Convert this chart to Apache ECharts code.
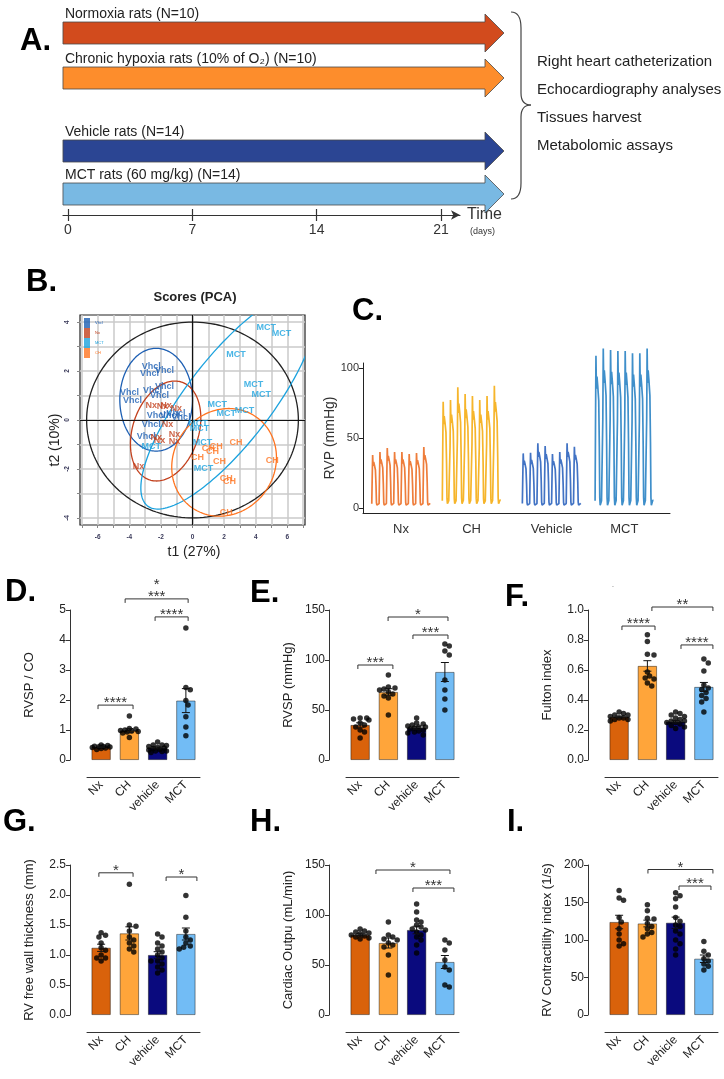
<!DOCTYPE html>
<html><head><meta charset="utf-8">
<script src="https://cdn.jsdelivr.net/npm/echarts/dist/echarts.min.js"></script>
<style>html,body{margin:0;padding:0;background:#fff}#c{width:724px;height:1079px}</style>
</head><body><div id="c"></div>
<script>
// ================= DATA =================
// Panel A : protocol
const groupNames = ['Normoxia rats', 'Chronic hypoxia rats (10% of O\u2082)', 'Vehicle rats', 'MCT rats (60 mg/kg)'];
const groupN = [10, 10, 14, 14];
const startDay = [0, 0, 0, 0];
const endDay = [21, 21, 21, 21];
const dayTicks = [0, 7, 14, 21];
const readouts = ['Right heart catheterization', 'Echocardiography analyses', 'Tissues harvest', 'Metabolomic assays'];

// Panel B : PCA scores (t1, t2)
const pcaGroups = ['Vhcl', 'Nx', 'MCT', 'CH'];
const pcaVhcl = [[-2.61,2.18],[-2.72,1.88],[-1.77,2.01],[-3.99,1.11],[-3.80,0.78],[-2.53,1.22],[-1.77,1.35],[-2.09,1.02],[-2.30,0.20],[-1.46,0.20],[-0.72,0.09],[-2.61,-0.17],[-2.93,-0.68],[-1.05,0.25]];
const pcaNx = [[-2.61,0.61],[-1.67,0.61],[-1.03,0.48],[-1.58,-0.17],[-2.30,-0.70],[-2.09,-0.82],[-1.14,-0.61],[-1.14,-0.88],[-3.42,-1.90],[-1.90,0.55]];
const pcaMCT = [[4.66,3.77],[5.63,3.55],[2.76,2.69],[3.86,1.47],[4.35,1.06],[1.56,0.65],[2.13,0.28],[3.29,0.37],[0.44,-0.33],[0.63,-0.94],[0.70,-2.00],[-2.61,-1.09],[0.35,-0.15]];
const pcaCH = [[2.76,-0.90],[1.50,-1.09],[1.27,-1.29],[0.32,-1.55],[1.71,-1.71],[5.04,-1.66],[2.13,-2.40],[2.34,-2.53],[2.13,-3.80],[1.00,-1.18]];
// ellipses: centre (t1,t2), conjugate semi-axes U and V
const ellHotelling = [0, 0, 6.7, 0, 0, 4.0];
const ellVhcl = [-2.3, 0.83, 0, 2.1, 2.3, 0];
const ellNx = [-1.7, -0.45, 1.0, 2.0, 1.99, -0.41];
const ellMCT = [2.30, 0.80, 5.415, 4.092, -1.30, 1.72];
const ellCH = [2.0, -1.73, 0.3, 2.2, 3.3, 0];
const pcaTicks = [-7,-6,-5,-4,-3,-2,-1,0,1,2,3,4,5,6,7];
const pcaLabelsX = [-6,-4,-2,0,2,4,6];
const pcaLabelsY = [-4,-2,0,2,4];

// Panel C : RVP traces (peak pressure of each beat, mmHg)
const rvpGroups = ['Nx', 'CH', 'Vehicle', 'MCT'];
const rvpPeaksNx = [37.9, 40, 42.9, 40, 40, 38.6, 39.3, 43.6];
const rvpPeaksCH = [75.9, 77.1, 86.2, 81.4, 80, 77.1, 80, 87.4];
const rvpPeaksVeh = [39, 39.5, 46.2, 44.3, 38.6, 40, 46.2, 43.8];
const rvpPeaksMCT = [108.8, 114, 112.9, 112.1, 112.1, 110.5, 110.5, 114];
const rvpBase = [2, 3, 2, 2];
// one beat: [fraction of beat, fraction of peak]
const beatShape = [[0,0.03],[0.06,0.55],[0.12,1],[0.18,0.78],[0.26,0.86],[0.36,0.8],[0.5,0.7],[0.58,0.4],[0.64,0.05],[0.7,0.0],[0.88,0.03],[1,0.03]];
const rvpTicks = [0, 50, 100];

// Panels D-I
const cats = ['Nx', 'CH', 'vehicle', 'MCT'];
// D  RVSP / CO
const dMeans = [0.43, 0.98, 0.40, 1.98];
const dSem = [0.015, 0.07, 0.03, 0.40];
const dNx = [0.5,0.48,0.46,0.45,0.44,0.43,0.42,0.4,0.38,0.35];
const dCH = [1.47,1.05,1.03,1.0,0.98,0.97,0.95,0.93,0.9,0.75];
const dVeh = [0.6,0.5,0.5,0.48,0.45,0.42,0.4,0.38,0.35,0.33,0.3,0.28,0.25,0.3];
const dMCT = [4.4,2.42,2.34,1.98,1.83,1.44,1.1,0.81];
const dBr = [[-0.11,1.13,1.83],[1.91,3.08,4.77],[0.85,3.08,5.37]];
const dBrLab = ['****', '****', '*\n***'];
// E  RVSP (mmHg)
const eMeans = [35, 68, 32, 88];
const eSem = [2.2, 3.3, 1.3, 9.5];
const eNx = [42,42,41,40,37,35,33,30,28,22];
const eCH = [85,73,72,71,70,68,66,64,62,45];
const eVeh = [42,37,36,35,34,33,33,32,31,30,29,28,27,25];
const eMCT = [116,114,109,105,80,70,61,50];
const eBr = [[-0.08,1.16,95],[0.99,3.11,143],[1.87,3.11,125]];
const eBrLab = ['***', '*', '***'];
// F  Fulton index
const fMeans = [0.287, 0.627, 0.255, 0.487];
const fSem = [0.006, 0.035, 0.008, 0.03];
const fNx = [0.32,0.31,0.3,0.3,0.29,0.28,0.28,0.27,0.27,0.26];
const fCH = [0.835,0.79,0.705,0.70,0.587,0.56,0.547,0.54,0.513,0.493];
const fVeh = [0.32,0.31,0.3,0.29,0.28,0.27,0.26,0.25,0.24,0.23,0.22,0.21,0.26,0.25];
const fMCT = [0.673,0.647,0.593,0.5,0.48,0.47,0.45,0.43,0.41,0.387,0.32];
const fBr = [[0.1,1.27,0.893],[1.16,3.32,1.02],[2.19,3.32,0.767]];
const fBrLab = ['****', '**', '****'];
// G  RV free wall thickness (mm)
const gMeans = [1.12, 1.36, 1.0, 1.35];
const gSem = [0.06, 0.11, 0.055, 0.1];
const gNx = [1.37,1.33,1.3,1.2,1.12,1.08,1.0,0.95,0.9,0.95];
const gCH = [2.18,1.5,1.48,1.4,1.3,1.25,1.2,1.15,1.1,1.05];
const gVeh = [1.35,1.3,1.2,1.15,1.1,1.05,1.0,0.95,0.9,0.85,0.8,0.75,0.7,0.9];
const gMCT = [1.99,1.63,1.4,1.3,1.25,1.2,1.15,1.1,1.13];
const gBr = [[-0.08,1.13,2.37],[2.3,3.39,2.3]];
const gBrLab = ['*', '*'];
// H  Cardiac output (mL/min)
const hMeans = [80, 72, 85, 53];
const hSem = [1.2, 5.0, 3.8, 6.5];
const hNx = [86,84,83,82,81,80,79,78,77,76];
const hCH = [93,80,78,76,75,72,70,68,60,40];
const hVeh = [111,103,95,93,90,88,86,85,83,80,78,75,70,62];
const hMCT = [75,72,65,55,48,45,30,28];
const hBr = [[0.56,3.18,145],[1.87,3.32,127]];
const hBrLab = ['*', '***'];
// I  RV contractility index (1/s)
const iMeans = [124, 122, 123, 75];
const iSem = [9, 4.5, 7.5, 5];
const iNx = [166,156,153,130,124,115,108,100,95,92];
const iCH = [147,139,129,128,122,118,115,110,108,104];
const iVeh = [163,159,155,144,130,125,120,118,112,108,100,95,88,80];
const iMCT = [98,85,80,75,72,68,65,60];
const iBr = [[1.02,3.32,194],[2.12,3.25,172]];
const iBrLab = ['*', '***'];

// ================= STYLE / LAYOUT =================
const FONT = 'Liberation Sans';
const arrowColors = ['#d24b1d', '#fd8d2c', '#2b4593', '#79b9e3'];
const arrowRowY = [33, 78, 151, 194];
const pcaColors = ['#1d5fb3', '#c2401d', '#1ba2de', '#ff7420'];
const rvpColors = ['#ee7d3b', '#f6b52b', '#4273c4', '#3f8fca'];
const rvpStart = [1.2, 10.85, 21.8, 31.75];
const barColors = ['#d9620b', '#ffa53a', '#0a0a7e', '#72bcf5'];

const grids = [], xAxes = [], yAxes = [], series = [], gfx = [];
let gi = 0, xi = 0, yi = 0;
const addGrid = g => { grids.push(Object.assign({ outerBoundsMode: 'none', containLabel: false, show: false }, g)); return gi++; };
const addX = a => { xAxes.push(a); return xi++; };
const addY = a => { yAxes.push(a); return yi++; };

// ---------- Panel A ----------
const gA = addGrid({ left: 63, top: 0, width: 397, height: 215 });
const xA = addX({ gridIndex: gA, type: 'value', min: -0.28, max: 22.07,
  axisLine: { onZero: false, lineStyle: { color: '#333', width: 1.2 }, symbol: ['none', 'arrow'], symbolSize: [7, 9] },
  axisTick: { show: true, length: 6, customValues: dayTicks, lineStyle: { color: '#333', width: 1.2 } },
  axisLabel: { customValues: dayTicks, fontSize: 14, color: '#333', margin: 8, fontFamily: FONT },
  splitLine: { show: false },
  name: 'Time', nameLocation: 'end', nameGap: 7, nameTextStyle: { fontSize: 16, color: '#333', fontFamily: FONT } });
addX({ gridIndex: gA, type: 'value', min: -0.28, max: 22.07, position: 'bottom',
  axisLine: { show: false, onZero: false },
  axisTick: { show: true, inside: true, length: 6, customValues: dayTicks, lineStyle: { color: '#333', width: 1.2 } },
  axisLabel: { show: false }, splitLine: { show: false } });
const yA = addY({ gridIndex: gA, type: 'value', min: 0, max: 215, inverse: true, show: false });
series.push({ type: 'custom', xAxisIndex: xA, yAxisIndex: yA, clip: false, silent: true,
  data: groupNames.map((n, i) => [startDay[i], endDay[i], arrowRowY[i]]),
  renderItem: (params, api) => {
    const i = params.dataIndex;
    const p0 = api.coord([api.value(0), api.value(2)]);
    const p1 = api.coord([api.value(1), api.value(2)]);
    const x0 = p0[0] - 5, xt = p1[0] + 63, xb = xt - 19, yc = p0[1], hb = 11, hh = 19;
    return { type: 'group', children: [
      { type: 'polygon', shape: { points: [[x0, yc - hb], [xb, yc - hb], [xb, yc - hh], [xt, yc], [xb, yc + hh], [xb, yc + hb], [x0, yc + hb]] },
        style: { fill: arrowColors[i], stroke: '#4a4a4a', lineWidth: 0.8 } },
      { type: 'text', x: x0 + 2, y: yc - hb - 1,
        style: { text: groupNames[i] + ' (N=' + groupN[i] + ')', fontSize: 14, fontFamily: FONT, fill: '#222', align: 'left', verticalAlign: 'bottom' } }
    ] };
  } });

// ---------- Panel B (PCA) ----------
const gB = addGrid({ left: 80, top: 315, width: 225, height: 210, show: true, borderColor: '#222', borderWidth: 1.2 });
const xB = addX({ gridIndex: gB, type: 'value', min: -7.12, max: 7.12,
  axisLine: { show: false, onZero: false },
  axisTick: { show: true, length: 3, customValues: pcaTicks, lineStyle: { color: '#888' } },
  axisLabel: { customValues: pcaLabelsX, fontSize: 6.5, fontWeight: 'bold', color: '#3a3a5a', margin: 9, fontFamily: FONT },
  splitLine: { show: true, lineStyle: { color: '#cacaca', width: 1.5 } } });
const yB = addY({ gridIndex: gB, type: 'value', min: -4.29, max: 4.29,
  axisLine: { show: false, onZero: false },
  axisTick: { show: true, length: 3, customValues: pcaTicks.filter(v => Math.abs(v) <= 4), lineStyle: { color: '#888' } },
  axisLabel: { customValues: pcaLabelsY, fontSize: 6.5, fontWeight: 'bold', color: '#3a3a5a', margin: 9, rotate: 90, fontFamily: FONT },
  splitLine: { show: true, lineStyle: { color: '#cacaca', width: 1.5 } } });
const ellipses = [ellHotelling, ellVhcl, ellNx, ellMCT, ellCH];
const ellColors = ['#222', pcaColors[0], pcaColors[1], pcaColors[2], pcaColors[3]];
series.push({ type: 'custom', xAxisIndex: xB, yAxisIndex: yB, silent: true, z: 3, clip: true,
  data: ellipses,
  renderItem: (params, api) => {
    const v = k => api.value(k);
    const pts = [];
    for (let k = 0; k <= 180; k++) {
      const t = k / 180 * 2 * Math.PI;
      pts.push(api.coord([v(0) + v(2) * Math.cos(t) + v(4) * Math.sin(t), v(1) + v(3) * Math.cos(t) + v(5) * Math.sin(t)]));
    }
    return { type: 'polyline', shape: { points: pts }, style: { stroke: ellColors[params.dataIndex], lineWidth: 1.3, fill: null } };
  } });
const pcaData = [pcaVhcl, pcaNx, pcaMCT, pcaCH];
pcaGroups.forEach((g, k) => {
  const s = { name: g, type: 'scatter', xAxisIndex: xB, yAxisIndex: yB, data: pcaData[k], symbolSize: 0.1, z: 5,
    itemStyle: { color: pcaColors[k] }, emphasis: { disabled: true },
    label: { show: true, position: 'inside', formatter: g, color: pcaColors[k], fontSize: 9, fontWeight: 'bold', fontFamily: FONT } };
  if (k === 0) s.markLine = { silent: true, symbol: 'none', label: { show: false }, animation: false,
    lineStyle: { color: '#111', width: 1.2, type: 'solid' }, data: [{ xAxis: 0 }, { yAxis: 0 }] };
  series.push(s);
});

// ---------- Panel C (RVP traces) ----------
const gC = addGrid({ left: 363, top: 363, width: 307, height: 150 });
const rvpCenters = rvpStart.map(s => s + 4);
const xC = addX({ gridIndex: gC, type: 'value', min: 0, max: 42,
  axisLine: { onZero: false, lineStyle: { color: '#222', width: 1 } }, axisTick: { show: false }, splitLine: { show: false },
  axisLabel: { customValues: rvpCenters, fontSize: 13, color: '#333', margin: 10, fontFamily: FONT,
    formatter: v => { const i = rvpCenters.findIndex(c => Math.abs(c - v) < 1e-6); return i >= 0 ? rvpGroups[i] : ''; } } });
const yC = addY({ gridIndex: gC, type: 'value', min: -3.6, max: 103.6,
  axisLine: { show: true, onZero: false, lineStyle: { color: '#222', width: 1 } },
  axisTick: { show: true, length: 4, customValues: rvpTicks, lineStyle: { color: '#222' } },
  axisLabel: { customValues: rvpTicks, fontSize: 11, color: '#333', margin: 4, fontFamily: FONT },
  splitLine: { show: false },
  name: 'RVP (mmHg)', nameLocation: 'middle', nameGap: 26, nameTextStyle: { fontSize: 14, color: '#333', fontFamily: FONT } });
[rvpPeaksNx, rvpPeaksCH, rvpPeaksVeh, rvpPeaksMCT].forEach((pk, g) => {
  const pts = [];
  pk.forEach((p, b) => beatShape.forEach(([tf, vf], k) => {
    if (b > 0 && k === 0) return;
    pts.push([rvpStart[g] + b + tf, rvpBase[g] + (p - rvpBase[g]) * vf]);
  }));
  series.push({ type: 'line', xAxisIndex: xC, yAxisIndex: yC, data: pts, showSymbol: false, clip: false, silent: true,
    lineStyle: { color: rvpColors[g], width: 1.7 }, itemStyle: { color: rvpColors[g] } });
});

// ---------- Panels D - I ----------
const panels = [
  { m: dMeans, s: dSem, dots: [dNx, dCH, dVeh, dMCT], br: dBr, lab: dBrLab, max: 5, step: 1, dec: 0, name: 'RVSP / CO' },
  { m: eMeans, s: eSem, dots: [eNx, eCH, eVeh, eMCT], br: eBr, lab: eBrLab, max: 150, step: 50, dec: 0, name: 'RVSP (mmHg)' },
  { m: fMeans, s: fSem, dots: [fNx, fCH, fVeh, fMCT], br: fBr, lab: fBrLab, max: 1, step: 0.2, dec: 1, name: 'Fulton index' },
  { m: gMeans, s: gSem, dots: [gNx, gCH, gVeh, gMCT], br: gBr, lab: gBrLab, max: 2.5, step: 0.5, dec: 1, name: 'RV free wall thickness (mm)' },
  { m: hMeans, s: hSem, dots: [hNx, hCH, hVeh, hMCT], br: hBr, lab: hBrLab, max: 150, step: 50, dec: 0, name: 'Cardiac Outpu (mL/min)' },
  { m: iMeans, s: iSem, dots: [iNx, iCH, iVeh, iMCT], br: iBr, lab: iBrLab, max: 200, step: 50, dec: 0, name: 'RV Contractility index (1/s)' }
];
const panelPos = [[87, 610], [346, 610], [605, 610], [87, 865], [346, 865], [605, 865]];
const PW = 113, PH = 150;

// compact beeswarm: horizontal spread limited to the bar width
function swarm(vals, pxPerUnit, bandPx) {
  const placed = [], out = [];
  const order = vals.map((v, i) => i).sort((a, b) => vals[b] - vals[a]);
  const cand = [0, 2.2, -2.2, 4.4, -4.4, 6.6, -6.6, 8.8, -8.8];
  for (const i of order) {
    const y = vals[i] * pxPerUnit;
    let best = 0, bestD = -1;
    for (const o of cand) {
      const d = placed.length ? Math.min(...placed.map(p => Math.hypot(p[0] - o, p[1] - y))) : 99;
      if (d >= 4.6) { best = o; bestD = d; break; }
      if (d > bestD) { bestD = d; best = o; }
    }
    placed.push([best, y]);
    out[i] = best / bandPx;
  }
  return out;
}

panels.forEach((P, k) => {
  const g = addGrid({ left: panelPos[k][0], top: panelPos[k][1], width: PW, height: PH });
  const xc = addX({ gridIndex: g, type: 'category', data: cats, offset: 17,
    axisLine: { onZero: false, lineStyle: { color: '#333', width: 1 } },
    axisTick: { alignWithLabel: true, length: 4, lineStyle: { color: '#333' } },
    axisLabel: { rotate: 45, fontSize: 12, color: '#222', margin: 6, interval: 0, fontFamily: FONT },
    splitLine: { show: false } });
  const xv = addX({ gridIndex: g, type: 'value', min: -0.5, max: 3.5, show: false });
  const yv = addY({ gridIndex: g, type: 'value', min: 0, max: P.max, interval: P.step, offset: 17,
    axisLine: { show: true, onZero: false, lineStyle: { color: '#333', width: 1 } },
    axisTick: { show: true, length: 4, lineStyle: { color: '#333' } },
    axisLabel: { fontSize: 12, color: '#222', margin: 4, fontFamily: FONT, formatter: v => v.toFixed(P.dec) },
    splitLine: { show: false },
    name: P.name, nameLocation: 'middle', nameGap: 34, nameTextStyle: { fontSize: 13, color: '#222', fontFamily: FONT } });
  series.push({ type: 'bar', xAxisIndex: xc, yAxisIndex: yv, barWidth: '68%', silent: true, z: 2,
    itemStyle: { borderColor: 'rgba(0,0,0,0.55)', borderWidth: 0.8 },
    data: P.m.map((v, i) => ({ value: v, itemStyle: { color: barColors[i] } })) });
  const dotData = [];
  P.dots.forEach((vals, c) => {
    const offs = swarm(vals, PH / P.max, PW / 4);
    vals.forEach((v, j) => dotData.push([c + offs[j], v]));
  });
  series.push({ type: 'scatter', xAxisIndex: xv, yAxisIndex: yv, data: dotData, symbolSize: 5.5, silent: true, z: 4,
    clip: false, itemStyle: { color: '#000' } });
  series.push({ type: 'custom', xAxisIndex: xv, yAxisIndex: yv, silent: true, z: 5, clip: false,
    data: P.m.map((v, i) => [i, v, P.s[i]]),
    renderItem: (params, api) => {
      const t = api.coord([api.value(0), api.value(1) + api.value(2)]);
      const b = api.coord([api.value(0), api.value(1) - api.value(2)]);
      const st = { stroke: '#111', lineWidth: 1 };
      return { type: 'group', children: [
        { type: 'line', shape: { x1: t[0], y1: t[1], x2: b[0], y2: b[1] }, style: st },
        { type: 'line', shape: { x1: t[0] - 4, y1: t[1], x2: t[0] + 4, y2: t[1] }, style: st },
        { type: 'line', shape: { x1: b[0] - 4, y1: b[1], x2: b[0] + 4, y2: b[1] }, style: st }
      ] };
    } });
  series.push({ type: 'custom', xAxisIndex: xv, yAxisIndex: yv, silent: true, z: 5, clip: false,
    data: P.br,
    renderItem: (params, api) => {
      const a = api.coord([api.value(0), api.value(2)]);
      const b = api.coord([api.value(1), api.value(2)]);
      const lab = P.lab[params.dataIndex];
      return { type: 'group', children: [
        { type: 'polyline', shape: { points: [[a[0], a[1] + 4], [a[0], a[1]], [b[0], b[1]], [b[0], b[1] + 4]] },
          style: { stroke: '#333', lineWidth: 1, fill: null } },
        { type: 'text', x: (a[0] + b[0]) / 2, y: a[1] + 4,
          style: { text: lab, align: 'center', verticalAlign: 'bottom', fontSize: 15, lineHeight: 12, fontFamily: FONT, fill: '#333' } }
      ] };
    } });
});

// ---------- free texts / decorations ----------
const letter = (t, x, y) => ({ type: 'text', x, y, style: { text: t, fontSize: 31, fontWeight: 'bold', fontFamily: FONT, fill: '#000', align: 'left', verticalAlign: 'middle' } });
gfx.push(letter('A.', 20, 41), letter('B.', 26, 282), letter('C.', 352, 311),
  letter('D.', 5, 592), letter('E.', 250, 593), letter('F.', 505, 597),
  letter('G.', 3, 822), letter('H.', 250, 822), letter('I.', 507, 822));
const readY = [62, 90, 118, 146];
readouts.forEach((t, i) => gfx.push({ type: 'text', x: 537, y: readY[i], style: { text: t, fontSize: 15, fontFamily: FONT, fill: '#222', align: 'left', verticalAlign: 'middle' } }));
const braceStyle = { stroke: '#444', lineWidth: 1.2, fill: null };
gfx.push(
  { type: 'bezierCurve', shape: { x1: 511, y1: 12, x2: 521, y2: 28, cpx1: 521, cpy1: 12 }, style: braceStyle },
  { type: 'line', shape: { x1: 521, y1: 28, x2: 521, y2: 93 }, style: braceStyle },
  { type: 'bezierCurve', shape: { x1: 521, y1: 93, x2: 531, y2: 105, cpx1: 521, cpy1: 105 }, style: braceStyle },
  { type: 'bezierCurve', shape: { x1: 531, y1: 105, x2: 521, y2: 117, cpx1: 521, cpy1: 105 }, style: braceStyle },
  { type: 'line', shape: { x1: 521, y1: 117, x2: 521, y2: 183 }, style: braceStyle },
  { type: 'bezierCurve', shape: { x1: 521, y1: 183, x2: 511, y2: 199, cpx1: 521, cpy1: 199 }, style: braceStyle });
gfx.push({ type: 'text', x: 470, y: 232, style: { text: '(days)', fontSize: 9, fontFamily: FONT, fill: '#333', align: 'left', verticalAlign: 'middle' } });
gfx.push({ type: 'text', x: 195, y: 297, style: { text: 'Scores (PCA)', fontSize: 13, fontWeight: 'bold', fontFamily: FONT, fill: '#222', align: 'center', verticalAlign: 'middle' } });
gfx.push({ type: 'text', x: 194, y: 552, style: { text: 't1 (27%)', fontSize: 14, fontFamily: FONT, fill: '#222', align: 'center', verticalAlign: 'middle' } });
gfx.push({ type: 'text', x: 55, y: 440, rotation: Math.PI / 2, style: { text: 't2 (10%)', fontSize: 14, fontFamily: FONT, fill: '#222', align: 'center', verticalAlign: 'middle' } });
gfx.push({ type: 'text', x: 613, y: 586, style: { text: '-', fontSize: 7, fontFamily: FONT, fill: '#999', align: 'center', verticalAlign: 'middle' } });

const option = {
  animation: false,
  textStyle: { fontFamily: FONT },
  grid: grids, xAxis: xAxes, yAxis: yAxes, series,
  legend: { data: pcaGroups, left: 84, top: 318, orient: 'vertical', icon: 'rect', itemWidth: 6, itemHeight: 10, itemGap: 0, padding: 0,
    selectedMode: false, textStyle: { fontSize: 4, color: 'inherit' } },
  graphic: { elements: gfx }
};
const chart = echarts.init(document.getElementById('c'), null, { width: 724, height: 1079 });
chart.setOption(option);
</script>
</body></html>
